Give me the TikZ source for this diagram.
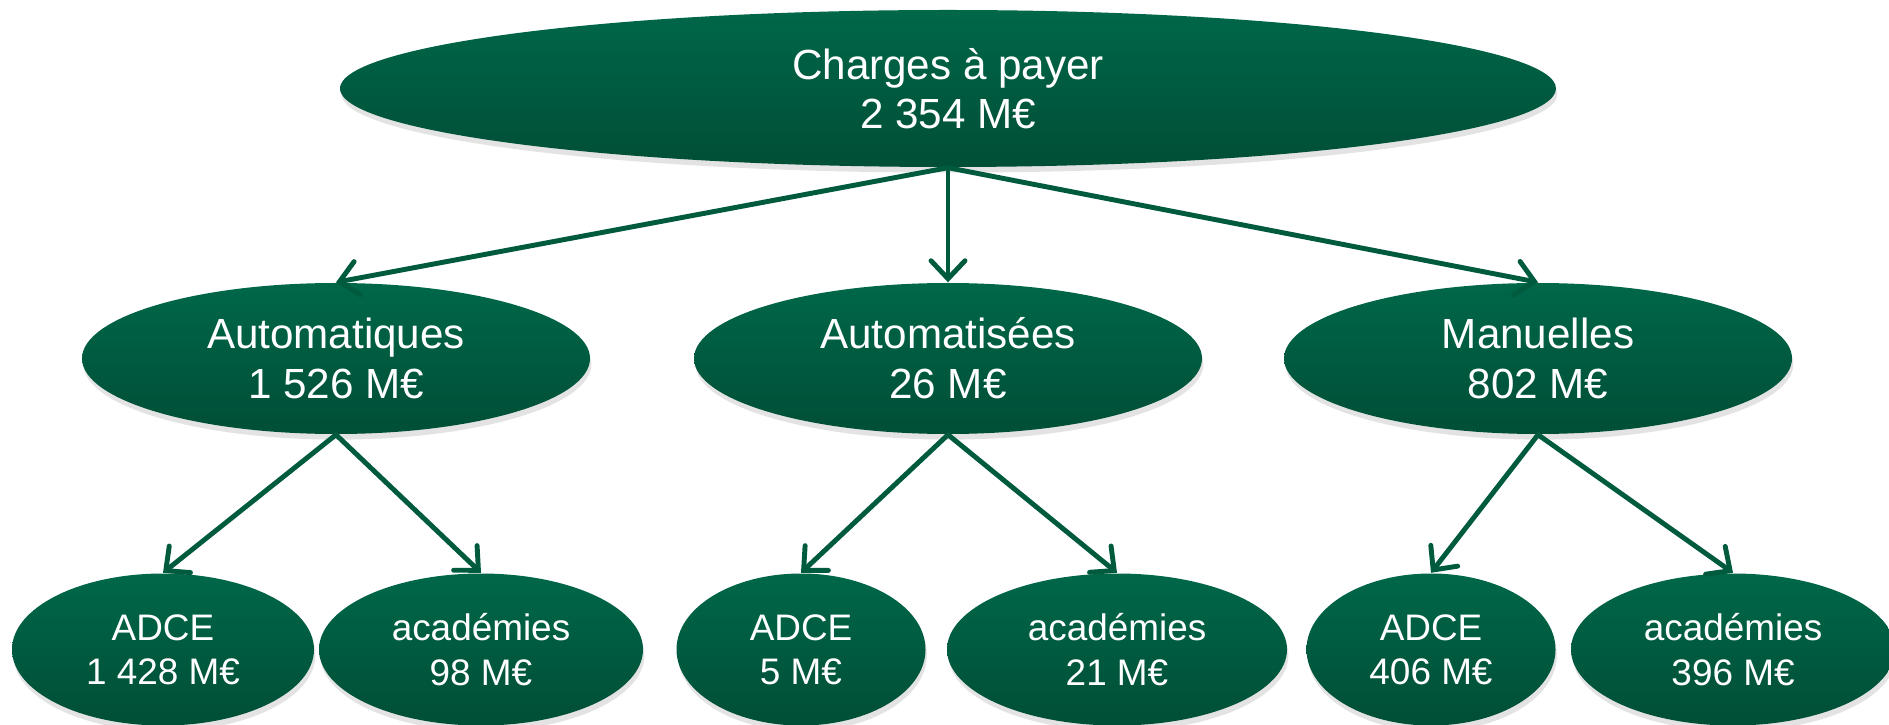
\documentclass[tikz,border=0pt]{standalone}
\usepackage{fontspec}
\setmainfont{Liberation Sans}
\usetikzlibrary{shapes.geometric, arrows.meta, positioning, shadows}
\definecolor{ellipsetop}{RGB}{0,103,73}
\definecolor{ellipsebot}{RGB}{0,78,54}
\definecolor{arrowgreen}{RGB}{0,90,62}
\tikzstyle{greenball} = [ellipse, inner sep=0pt, align=center, text=white, top color=ellipsetop, bottom color=ellipsebot, drop shadow={opacity=0.22, shadow xshift=0.4pt, shadow yshift=-1.6pt}]
\tikzstyle{total} = [greenball, minimum width=12.16cm, minimum height=1.57cm, font=\fontsize{12}{14}\selectfont]
\tikzstyle{branch} = [greenball, minimum width=5.08cm, minimum height=1.51cm, font=\fontsize{12}{14.2}\selectfont]
\tikzstyle{leaf} = [greenball, minimum height=1.52cm, font=\fontsize{10.5}{12.6}\selectfont]
\tikzstyle{arrow} = [line width=1.4pt, draw=arrowgreen, line cap=round, -{Straight Barb[length=1.8mm, width=3.4mm, line cap=round]}]

\begin{document}
\begin{tikzpicture}[node distance=2.7cm]
\useasboundingbox (0,0) rectangle (18.89,-7.25);

\node (root) [total] at (9.48,-0.885) {Charges à payer\\2 354 M€};
\node (autom) [branch, below of=root] {Automatisées\\26 M€};
\node (auto) [branch, left of=autom, xshift=-3.42cm] {Automatiques\\1 526 M€};
\node (manu) [branch, right of=autom, xshift=3.2cm] {Manuelles\\802 M€};

\node (adceA) [leaf, minimum width=3.02cm, below of=auto, xshift=-1.73cm, yshift=-0.21cm] {ADCE\\1 428 M€};
\node (acadA) [leaf, minimum width=3.24cm, below of=auto, xshift=1.45cm, yshift=-0.21cm] {académies\\98 M€};
\node (adceB) [leaf, minimum width=2.49cm, below of=autom, xshift=-1.47cm, yshift=-0.21cm] {ADCE\\5 M€};
\node (acadB) [leaf, minimum width=3.40cm, below of=autom, xshift=1.69cm, yshift=-0.21cm] {académies\\21 M€};
\node (adceC) [leaf, minimum width=2.49cm, below of=manu, xshift=-1.07cm, yshift=-0.21cm] {ADCE\\406 M€};
\node (acadC) [leaf, minimum width=3.24cm, below of=manu, xshift=1.95cm, yshift=-0.21cm] {académies\\396 M€};

\draw [arrow] (root.south) -- (auto.north);
\draw [arrow] (root.south) -- (autom.north);
\draw [arrow] (root.south) -- (manu.north);
\draw [arrow] (auto.south) -- (adceA.north);
\draw [arrow] (auto.south) -- (acadA.north);
\draw [arrow] (autom.south) -- (adceB.north);
\draw [arrow] (autom.south) -- (acadB.north);
\draw [arrow] (manu.south) -- (adceC.north);
\draw [arrow] (manu.south) -- (acadC.north);

\end{tikzpicture}
\end{document}
